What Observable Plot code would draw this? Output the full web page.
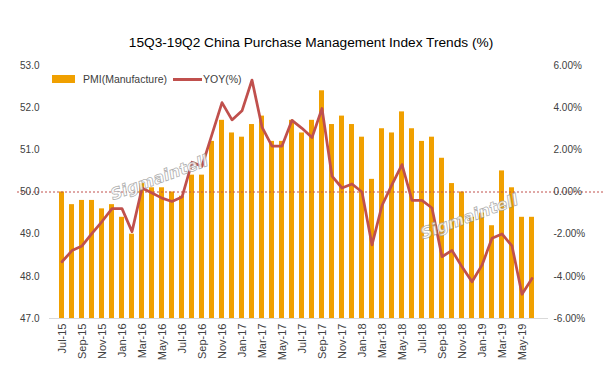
<!DOCTYPE html>
<html>
<head>
<meta charset="utf-8">
<script src="https://cdn.jsdelivr.net/npm/d3@7"></script>
<script src="https://cdn.jsdelivr.net/npm/@observablehq/plot@0.6"></script>
<style>
  html, body { margin: 0; padding: 0; background: #fff; }
  #wrap { position: relative; width: 615px; height: 382px; overflow: hidden; font-family: "Liberation Sans", Arial, sans-serif; }
  #title { position: absolute; top: 35px; left: 0; width: 622px; text-align: center; font-size: 13.7px; color: #000; white-space: nowrap; }
  #legend { position: absolute; top: 73px; left: 52px; font-size: 10.5px; color: #404040; display: flex; align-items: center; white-space: nowrap; }
  #legend .sw { display: inline-block; width: 23px; height: 8px; background: #F0A000; margin-right: 8px; }
  #legend .ln { display: inline-block; width: 29px; height: 3px; background: #C0504D; margin-left: 6px; margin-right: 1px; }
  .wm { position: absolute; font-family: "DejaVu Sans", sans-serif; font-weight: bold; font-style: italic; font-size: 16px; color: rgba(255,255,255,0.8); -webkit-text-stroke: 0.8px rgba(140,140,140,0.7); transform: rotate(-20deg); white-space: nowrap; }
  #chart { position: absolute; top: 0; left: 0; }
</style>
</head>
<body>
<div id="wrap">
  <div id="chart"></div>
  <div id="title">15Q3-19Q2 China Purchase Management Index Trends (%)</div>
  <div id="legend"><span class="sw"></span><span>PMI(Manufacture)</span><span class="ln"></span><span>YOY(%)</span></div>
  <div class="wm" style="left:108px; top:168px;">Sigmaintell</div>
  <div class="wm" style="left:418px; top:207px;">Sigmaintell</div>
</div>
<script>
const months = [
  "Jul-15","Aug-15","Sep-15","Oct-15","Nov-15","Dec-15",
  "Jan-16","Feb-16","Mar-16","Apr-16","May-16","Jun-16","Jul-16","Aug-16","Sep-16","Oct-16","Nov-16","Dec-16",
  "Jan-17","Feb-17","Mar-17","Apr-17","May-17","Jun-17","Jul-17","Aug-17","Sep-17","Oct-17","Nov-17","Dec-17",
  "Jan-18","Feb-18","Mar-18","Apr-18","May-18","Jun-18","Jul-18","Aug-18","Sep-18","Oct-18","Nov-18","Dec-18",
  "Jan-19","Feb-19","Mar-19","Apr-19","May-19","Jun-19"
];
const pmi = [
  50.0,49.7,49.8,49.8,49.6,49.7,
  49.4,49.0,50.2,50.1,50.1,50.0,49.9,50.4,50.4,51.2,51.7,51.4,
  51.3,51.6,51.8,51.2,51.2,51.7,51.4,51.7,52.4,51.6,51.8,51.6,
  51.3,50.3,51.5,51.4,51.9,51.5,51.2,51.3,50.8,50.2,50.0,49.4,
  49.5,49.2,50.5,50.1,49.4,49.4
];
const yoy = [
  -3.31,-2.78,-2.56,-1.96,-1.40,-0.79,
  -0.79,-1.88,0.19,-0.05,-0.29,-0.45,-0.24,1.41,1.22,2.73,4.24,3.42,
  3.85,5.31,3.08,2.18,2.18,3.40,3.02,2.58,3.96,0.75,0.19,0.38,
  0.00,-2.51,-0.64,0.35,1.30,-0.40,-0.40,-0.76,-3.07,-2.77,-3.55,-4.26,
  -3.47,-2.19,-1.99,-2.56,-4.85,-4.10
];
const leftTicks = [47, 48, 49, 50, 51, 52, 53];
const yMin = 47, yMax = 53;
const yoyMin = -6, yoyMax = 6;

// map YOY (%) onto the PMI axis (right axis shares the y scale)
const toLeft = v => yMin + (v - yoyMin) * (yMax - yMin) / (yoyMax - yoyMin);
const toRight = v => yoyMin + (v - yMin) * (yoyMax - yoyMin) / (yMax - yMin);

const data = months.map((m, i) => ({month: m, pmi: pmi[i], yoy: yoy[i], yoyL: toLeft(yoy[i])}));
const shown = months.filter((m, i) => i % 2 === 0);

const chart = Plot.plot({
  width: 615,
  height: 382,
  marginTop: 65,
  marginBottom: 64,
  marginLeft: 51,
  marginRight: 72,
  style: {fontFamily: "'Liberation Sans', Arial, sans-serif", fontSize: "10px", color: "#404040", background: "transparent"},
  x: {type: "band", domain: months, paddingInner: 0.46, paddingOuter: 0.23},
  y: {domain: [yMin, yMax]},
  marks: [
    Plot.barY(data, {x: "month", y1: () => yMin, y2: "pmi", fill: "#F0A000"}),
    Plot.ruleY([yMin], {stroke: "#d9d9d9", strokeWidth: 1, insetLeft: -2, insetRight: -5}),
    Plot.ruleY([50], {stroke: "#C0504D", strokeWidth: 1, strokeDasharray: "2,2", insetLeft: -34, insetRight: -60}),
    Plot.line(data, {x: "month", y: "yoyL", stroke: "#C0504D", strokeWidth: 2.75, strokeLinejoin: "round", strokeLinecap: "round"}),
    Plot.axisY({anchor: "left", ticks: leftTicks, tickSize: 0, tickPadding: 12, tickFormat: d => d.toFixed(1), label: null, fill: "#404040"}),
    Plot.axisY({anchor: "right", ticks: leftTicks, tickSize: 0, tickPadding: 10, tickFormat: d => toRight(d).toFixed(2) + "%", label: null, fill: "#404040"}),
    Plot.axisX({ticks: shown, tickSize: 0, tickPadding: 5, tickRotate: -90, label: null, fontSize: 11, fill: "#404040"})
  ]
});
document.getElementById("chart").appendChild(chart);
</script>
</body>
</html>
